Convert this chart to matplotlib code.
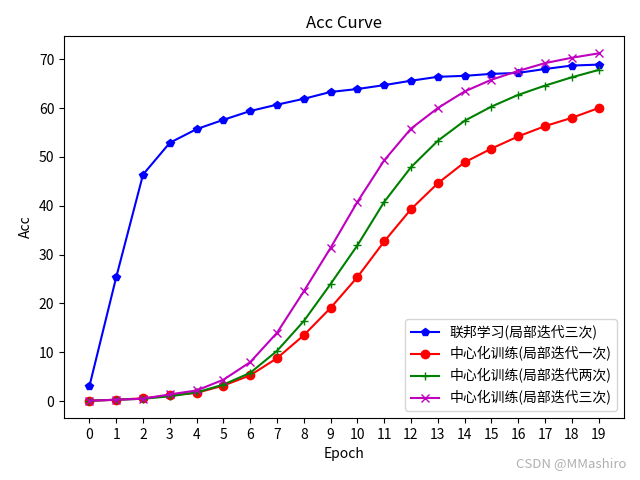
import matplotlib
matplotlib.use('Agg')
import matplotlib.pyplot as plt

plt.rcParams['font.family'] = ['Noto Sans CJK SC', 'DejaVu Sans']
plt.rcParams['axes.unicode_minus'] = False

epochs = list(range(20))
fed_3 = [3.1, 25.4, 46.4, 52.9, 55.7, 57.6, 59.4, 60.7, 61.9, 63.3,
         63.9, 64.7, 65.6, 66.4, 66.6, 67.0, 67.2, 68.0, 68.7, 68.9]
cen_1 = [0.1, 0.3, 0.6, 1.2, 1.7, 3.2, 5.3, 8.8, 13.5, 19.1,
         25.4, 32.7, 39.3, 44.6, 48.9, 51.7, 54.2, 56.3, 58.0, 60.0]
cen_2 = [0.1, 0.3, 0.5, 1.0, 1.8, 3.4, 5.8, 10.3, 16.4, 24.0,
         31.9, 40.8, 47.9, 53.3, 57.4, 60.3, 62.7, 64.6, 66.3, 67.8]
cen_3 = [0.1, 0.3, 0.5, 1.4, 2.2, 4.4, 8.0, 14.0, 22.5, 31.4,
         40.8, 49.3, 55.8, 60.0, 63.4, 65.8, 67.6, 69.2, 70.3, 71.2]
labels = ['联邦学习(局部迭代三次)', '中心化训练(局部迭代一次)',
          '中心化训练(局部迭代两次)', '中心化训练(局部迭代三次)']

fig, ax = plt.subplots(figsize=(6.4, 4.8), dpi=100)
ax.plot(epochs, fed_3, 'b-p', label=labels[0])
ax.plot(epochs, cen_1, 'r-o', label=labels[1])
ax.plot(epochs, cen_2, 'g-+', label=labels[2])
ax.plot(epochs, cen_3, 'm-x', label=labels[3])
ax.set_xticks(epochs)
ax.set_title('Acc Curve')
ax.set_xlabel('Epoch')
ax.set_ylabel('Acc')
ax.legend(loc='lower right')
fig.subplots_adjust(left=0.1, right=0.975, top=0.925, bottom=0.129)
fig.text(0.978, 0.02, 'CSDN @MMashiro', color='#b0b0b0', ha='right', va='bottom', fontsize=9.5)
fig.savefig('out.png')
